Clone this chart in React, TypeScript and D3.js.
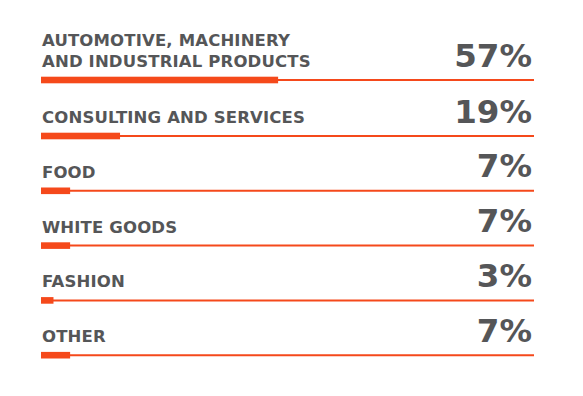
import { useEffect, useRef } from "react";
import * as d3 from "d3";

const categories: string[][] = [
  ["AUTOMOTIVE, MACHINERY", "AND INDUSTRIAL PRODUCTS"],
  ["CONSULTING AND SERVICES"],
  ["FOOD"],
  ["WHITE GOODS"],
  ["FASHION"],
  ["OTHER"],
];
const shares: number[] = [57, 19, 7, 7, 3, 7];
const shareLabels: string[] = ["57%", "19%", "7%", "7%", "3%", "7%"];

function App() {
  const svgRef = useRef<SVGSVGElement>(null);

  useEffect(() => {
    if (!svgRef.current) return;
    const svg = d3.select(svgRef.current);
    svg.selectAll("*").remove();

    const width = 583;
    const height = 396;
    svg.attr("width", width).attr("height", height);

    const left = 41;
    const right = 534;

    // 0..100 % maps onto the track
    const x = d3.scaleLinear().domain([0, 100]).range([left, left + 416]);

    // row baselines (the track line) - first row is taller (two-line label)
    const y = (i: number) => (i === 0 ? 80 : 136 + (i - 1) * 54.8);

    const orange = "#f5491b";
    const grey = "#555658";
    const font = "'DejaVu Sans', sans-serif";

    const rows = svg
      .selectAll("g.row")
      .data(shares)
      .join("g")
      .attr("class", "row")
      .attr("transform", (_, i) => `translate(0,${y(i)})`);

    // thin track line
    rows
      .append("line")
      .attr("x1", left)
      .attr("x2", right)
      .attr("y1", 0)
      .attr("y2", 0)
      .attr("stroke", orange)
      .attr("stroke-width", 2);

    // thick value bar
    rows
      .append("rect")
      .attr("x", left)
      .attr("y", -3.3)
      .attr("width", (d) => x(d) - left)
      .attr("height", 6.6)
      .attr("fill", orange);

    // category labels
    rows
      .append("text")
      .attr("font-family", font)
      .attr("font-weight", "bold")
      .attr("font-size", 16.5)
      .attr("letter-spacing", 0.15)
      .attr("fill", grey)
      .selectAll("tspan")
      .data((_, i) => categories[i].map((t, k, arr) => ({ t, off: -13 - (arr.length - 1 - k) * 21 })))
      .join("tspan")
      .attr("x", left + 1)
      .attr("y", (d) => d.off)
      .text((d) => d.t);

    // percentages
    rows
      .append("text")
      .attr("x", right - 2)
      .attr("y", -13.5)
      .attr("text-anchor", "end")
      .attr("font-family", font)
      .attr("font-weight", "bold")
      .attr("font-size", 32.5)
      .attr("fill", grey)
      .text((_, i) => shareLabels[i]);
  }, []);

  return (
    <svg
      ref={svgRef}
      style={{ position: "absolute", left: 0, top: 0, background: "#fff" }}
    ></svg>
  );
}

export default App;
